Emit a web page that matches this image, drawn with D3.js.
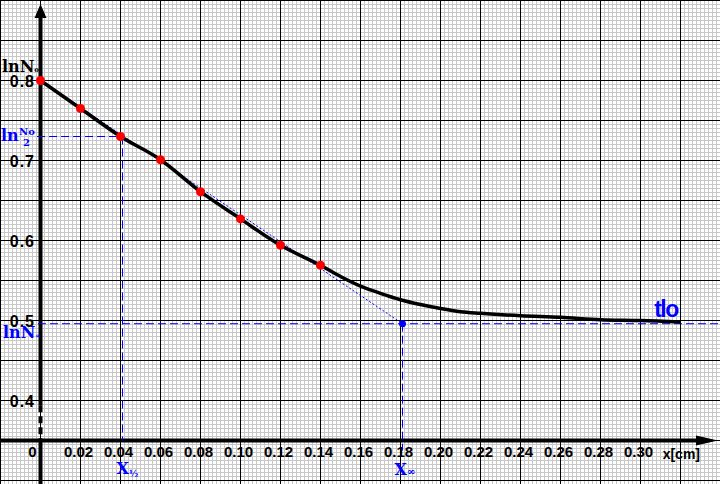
<!DOCTYPE html>
<html>
<head>
  <title>lnN vs x</title>
</head>
<style>
  body {
    margin: 0;
    background: #fff;
  }
  text {
    font-family: "Liberation Sans", Arial, sans-serif;
  }
  .serif {
    font-family: "DejaVu Serif", serif;
    font-weight: bold;
  }
</style>
<body>
  <script src="https://d3js.org/d3.v7.min.js"></script>
  <script>
    // measured points (red)
    const pointX = [0, 0.02, 0.04, 0.06, 0.08, 0.10, 0.12, 0.14];
    const pointY = [0.800, 0.765, 0.730, 0.701, 0.661, 0.627, 0.594, 0.569];

    // drawn curve (black)
    const curveX = [0, 0.02, 0.04, 0.06, 0.08, 0.10, 0.12, 0.14, 0.15, 0.16, 0.17, 0.18, 0.19, 0.20, 0.21, 0.22, 0.24, 0.26, 0.28, 0.30, 0.32];
    const curveY = [0.800, 0.765, 0.730, 0.701, 0.661, 0.627, 0.594, 0.569, 0.555, 0.543, 0.534, 0.526, 0.520, 0.515, 0.511, 0.509, 0.506, 0.504, 0.501, 0.500, 0.498];

    // helper values
    const lnN0 = 0.800;
    const lnHalf = 0.730;
    const xHalf = 0.041;
    const lnInf = 0.496;
    const xInf = 0.181;

    const xTicks = [0.02, 0.04, 0.06, 0.08, 0.10, 0.12, 0.14, 0.16, 0.18, 0.20, 0.22, 0.24, 0.26, 0.28, 0.30];
    const yTicks = [0.4, 0.5, 0.6, 0.7, 0.8];

    const w = 720;
    const h = 484;

    const x = d3.scaleLinear().domain([0, 0.01]).range([40.5, 60.5]);
    const y = d3.scaleLinear().domain([0.35, 0.8]).range([440.5, 80.5]);

    const svg = d3.select("body")
                  .append("svg")
                  .attr("width", w)
                  .attr("height", h)
                  .style("display", "block");

    svg.append("rect").attr("width", w).attr("height", h).attr("fill", "#fff");

    // grid, minor every 4px, major every 40px
    const gx = d3.range(-10, 171).map(i => i * 0.002);
    const gy = d3.range(-12, 111).map(i => 0.35 + i * 0.005);

    const grid = svg.append("g").attr("shape-rendering", "crispEdges");
    grid.selectAll(".vm")
        .data(gx.filter((d, i) => (i - 10) % 10 !== 0))
        .join("line")
        .attr("x1", d => x(d)).attr("x2", d => x(d))
        .attr("y1", 0).attr("y2", h)
        .attr("stroke", "#c8c8c8");
    grid.selectAll(".hm")
        .data(gy.filter((d, i) => (i - 12) % 10 !== 0))
        .join("line")
        .attr("x1", 0).attr("x2", w)
        .attr("y1", d => y(d)).attr("y2", d => y(d))
        .attr("stroke", "#c8c8c8");
    grid.selectAll(".vM")
        .data(gx.filter((d, i) => (i - 10) % 10 === 0))
        .join("line")
        .attr("x1", d => x(d)).attr("x2", d => x(d))
        .attr("y1", 0).attr("y2", h)
        .attr("stroke", "#000");
    grid.selectAll(".hM")
        .data(gy.filter((d, i) => (i - 12) % 10 === 0))
        .join("line")
        .attr("x1", 0).attr("x2", w)
        .attr("y1", d => y(d)).attr("y2", d => y(d))
        .attr("stroke", "#000");

    // axes
    const x0 = x(0);
    const yAx = y(0.35);
    svg.append("line").attr("x1", x0).attr("x2", x0).attr("y1", 14).attr("y2", y(0.394))
       .attr("stroke", "#000").attr("stroke-width", 4);
    svg.append("line").attr("x1", x0).attr("x2", x0).attr("y1", y(0.394)).attr("y2", yAx)
       .attr("stroke", "#000").attr("stroke-width", 4).attr("stroke-dasharray", "7,4");
    svg.append("line").attr("x1", x0).attr("x2", x0).attr("y1", yAx).attr("y2", h)
       .attr("stroke", "#000").attr("stroke-width", 4);
    svg.append("path").attr("d", `M${x0},4 L${x0 - 6},18 L${x0 + 6},18 Z`).attr("fill", "#000");

    svg.append("line").attr("x1", 0).attr("x2", 700).attr("y1", yAx).attr("y2", yAx)
       .attr("stroke", "#000").attr("stroke-width", 4);
    svg.append("path").attr("d", `M718,${yAx} L696,${yAx - 5} L696,${yAx + 5} Z`).attr("fill", "#000");

    // tick labels
    svg.selectAll(".xl")
       .data(xTicks)
       .join("text")
       .attr("x", d => x(d) - 2)
       .attr("y", 457)
       .attr("text-anchor", "middle")
       .attr("font-size", 15)
       .attr("font-weight", "bold")
       .text(d3.format(".2f"));
    svg.append("text").attr("x", x(0) - 8).attr("y", 457).attr("text-anchor", "middle")
       .attr("font-size", 15).attr("font-weight", "bold").text("0");
    svg.append("text").attr("x", 700).attr("y", 459).attr("text-anchor", "end")
       .attr("font-size", 14).attr("font-weight", "bold").text("x[cm]");

    svg.selectAll(".yl")
       .data(yTicks)
       .join("text")
       .attr("x", 35)
       .attr("y", d => y(d) + 6)
       .attr("text-anchor", "end")
       .attr("font-size", 16)
       .attr("font-weight", "bold")
       .attr("letter-spacing", 1)
       .text(d3.format(".1f"));

    // helper lines
    const blue = "#0000ff";
    svg.append("line").attr("x1", 37).attr("x2", x(xHalf)).attr("y1", y(lnHalf)).attr("y2", y(lnHalf))
       .attr("stroke", blue).attr("stroke-dasharray", "8,4");
    svg.append("line").attr("x1", x(xHalf)).attr("x2", x(xHalf)).attr("y1", y(lnHalf)).attr("y2", yAx)
       .attr("stroke", blue).attr("stroke-dasharray", "8,4");
    svg.append("line").attr("x1", 38).attr("x2", w).attr("y1", y(lnInf)).attr("y2", y(lnInf))
       .attr("stroke", blue).attr("stroke-dasharray", "8,4");
    svg.append("line").attr("x1", x(xInf)).attr("x2", x(xInf)).attr("y1", y(lnInf)).attr("y2", yAx + 10)
       .attr("stroke", blue).attr("stroke-dasharray", "8,4");
    svg.append("line").attr("x1", x(0)).attr("x2", x(xInf)).attr("y1", y(lnN0)).attr("y2", y(lnInf))
       .attr("stroke", blue).attr("stroke-width", 1).attr("stroke-dasharray", "2,2");

    // curve
    const line = d3.line()
                   .x((d, i) => x(curveX[i]))
                   .y(d => y(d))
                   .curve(d3.curveMonotoneX);
    svg.append("path")
       .datum(curveY)
       .attr("d", line)
       .attr("fill", "none")
       .attr("stroke", "#000")
       .attr("stroke-width", 3.5);

    svg.selectAll(".pt")
       .data(pointY)
       .join("circle")
       .attr("cx", (d, i) => x(pointX[i]))
       .attr("cy", d => y(d))
       .attr("r", 4.5)
       .attr("fill", "#ff0000");

    svg.append("circle").attr("cx", x(xInf)).attr("cy", y(lnInf)).attr("r", 3.5).attr("fill", blue);

    // labels
    const t1 = svg.append("text").attr("class", "serif").attr("x", 2).attr("y", 72).attr("font-size", 16).attr("fill", "#000");
    t1.append("tspan").text("lnN");
    t1.append("tspan").attr("font-size", 7).text("o");

    svg.append("text").attr("class", "serif").attr("x", 1).attr("y", 141).attr("font-size", 16).attr("fill", blue).text("ln");
    svg.append("text").attr("class", "serif").attr("x", 19).attr("y", 135).attr("font-size", 10).attr("fill", blue).text("No");
    svg.append("text").attr("class", "serif").attr("x", 23).attr("y", 146).attr("font-size", 10).attr("fill", blue).text("2");

    const t3 = svg.append("text").attr("class", "serif").attr("x", 3).attr("y", 338).attr("font-size", 16).attr("fill", blue);
    t3.append("tspan").text("lnN");
    t3.append("tspan").attr("font-size", 7).text("∞");

    const t4 = svg.append("text").attr("class", "serif").attr("x", x(xHalf) - 6).attr("y", 474).attr("font-size", 16).attr("fill", blue);
    t4.append("tspan").text("X");
    t4.append("tspan").attr("font-size", 9).attr("dy", 3).text("½");

    const t5 = svg.append("text").attr("class", "serif").attr("x", x(xInf) - 8).attr("y", 475).attr("font-size", 16).attr("fill", blue);
    t5.append("tspan").text("X");
    t5.append("tspan").attr("font-size", 10).text("∞");

    svg.append("text").attr("x", 666).attr("y", 317).attr("text-anchor", "middle")
       .attr("font-size", 23).attr("font-weight", "bold").attr("fill", blue)
       .attr("letter-spacing", -1.5).text("tlo");
  </script>
</body>
</html>
